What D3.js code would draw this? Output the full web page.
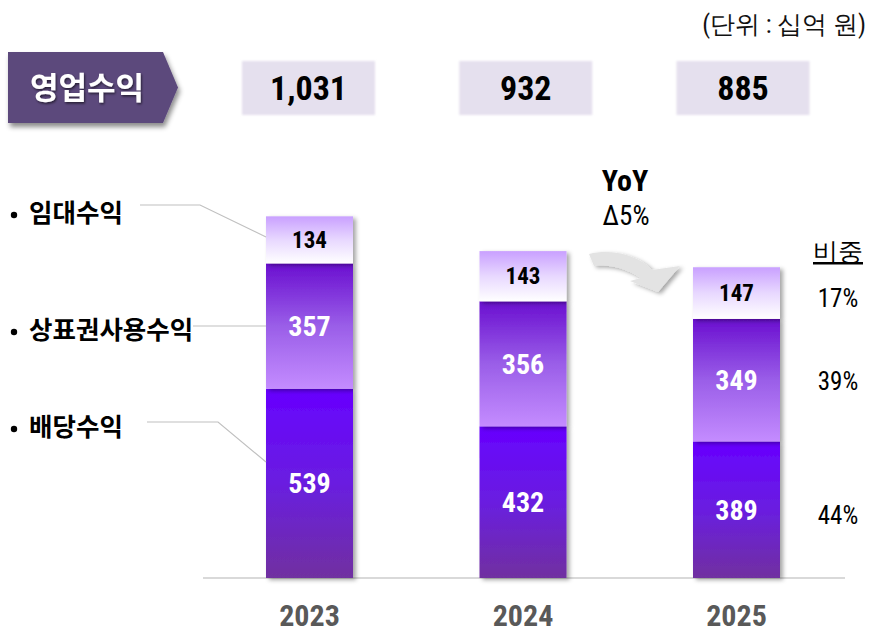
<!DOCTYPE html>
<html><head><meta charset="utf-8">
<script src="https://cdn.jsdelivr.net/npm/d3@7"></script>
<style>
body{margin:0;background:#fff;}
svg{display:block;}
.kr{font-family:"Noto Sans CJK KR","Noto Sans",sans-serif;}
.nar{font-family:"Liberation Sans Narrow","Arial Narrow","Roboto Condensed",sans-serif;}
</style></head>
<body>
<svg id="c" width="870" height="633"></svg>
<script>
const years = ["2023","2024","2025"];
const totals = ["1,031","932","885"];
const dividend = [539,432,389];
const brand = [357,356,349];
const rental = [134,143,147];
const seriesNames = ["배당수익","상표권사용수익","임대수익"];
const shares = ["44%","39%","17%"];
const yoyTitle = "YoY";
const yoyValue = "Δ5%";
const unitText = "(단위 : 십억 원)";
const headerText = "영업수익";
const shareTitle = "비중";

const svg = d3.select("#c");
const defs = svg.append("defs");

function grad(id, stops){
  const g = defs.append("linearGradient").attr("id",id).attr("x1",0).attr("y1",0).attr("x2",0).attr("y2",1);
  stops.forEach(s=>g.append("stop").attr("offset",s[0]).attr("stop-color",s[1]));
}
grad("gDiv",[[0,"#6600ff"],[0.5,"#6a1ee0"],[1,"#7030a0"]]);
grad("gBrand",[[0,"#6a0fd0"],[0.5,"#9a5ee8"],[1,"#c48cff"]]);
grad("gRent",[[0,"#c9a0ff"],[0.5,"#e8d8ff"],[1,"#ffffff"]]);

const f = defs.append("filter").attr("id","sh").attr("x","-20%").attr("y","-20%").attr("width","150%").attr("height","150%");
f.append("feDropShadow").attr("dx",3).attr("dy",2).attr("stdDeviation",2.2).attr("flood-color","#000").attr("flood-opacity",0.35);
const f2 = defs.append("filter").attr("id","sh2").attr("x","-20%").attr("y","-20%").attr("width","150%").attr("height","160%");
f2.append("feDropShadow").attr("dx",2).attr("dy",4).attr("stdDeviation",2.5).attr("flood-color","#000").attr("flood-opacity",0.45);
const f3 = defs.append("filter").attr("id","sh3").attr("x","-20%").attr("y","-20%").attr("width","150%").attr("height","160%");
f3.append("feDropShadow").attr("dx",1).attr("dy",1.5).attr("stdDeviation",0.8).attr("flood-color","#000").attr("flood-opacity",0.6);
const fb = defs.append("filter").attr("id","blur").attr("x","-10%").attr("y","-10%").attr("width","120%").attr("height","120%");
fb.append("feGaussianBlur").attr("stdDeviation",0.8);

// scales
const x = d3.scalePoint().domain(years).range([309.5, 736.5]);
const barW = 87;
const y = d3.scaleLinear().domain([0, 1031]).range([578, 216]);

// unit text
svg.append("text").attr("class","nar").attr("x",866).attr("y",33).attr("text-anchor","end")
  .attr("font-size",25).attr("fill","#111").text(unitText);

// header arrow box
svg.append("path").attr("d","M8,52 L163,52 L178,87.5 L163,123 L8,123 Z")
  .attr("fill","#5c4a7c").attr("filter","url(#sh2)");
svg.append("text").attr("class","kr").attr("x",87).attr("y",99).attr("text-anchor","middle")
  .attr("font-size",31).attr("font-weight",700).attr("fill","#fff").attr("filter","url(#sh3)").text(headerText);

// total boxes
const boxW = 133, boxH = 54;
const boxCenters = d3.scalePoint().domain(years).range([308.5, 743]);
years.forEach((yr,i)=>{
  const cx = boxCenters(yr);
  svg.append("rect").attr("x",cx-boxW/2).attr("y",61).attr("width",boxW).attr("height",boxH)
    .attr("fill","#e5e0ee").attr("filter","url(#blur)");
  svg.append("text").attr("class","nar").attr("x",cx).attr("y",100).attr("text-anchor","middle")
    .attr("font-size",34).attr("font-weight",700).attr("fill","#000").text(totals[i]);
});

// baseline
svg.append("line").attr("x1",203).attr("x2",845).attr("y1",578).attr("y2",578)
  .attr("stroke","#d9d9d9").attr("stroke-width",2);

// stacks
const rows = years.map((yr,i)=>({year:yr, div:dividend[i], brand:brand[i], rent:rental[i]}));
const stack = d3.stack().keys(["div","brand","rent"])(rows);
const fills = {div:"url(#gDiv)", brand:"url(#gBrand)", rent:"url(#gRent)"};
const labelStyle = {
  div:{fill:"#fff",size:28},
  brand:{fill:"#fff",size:28},
  rent:{fill:"#000",size:23}
};
const gBars = svg.append("g");
stack.forEach(layer=>{
  layer.forEach(d=>{
    gBars.append("rect").attr("x",x(d.data.year)-barW/2).attr("y",y(d[1]))
      .attr("width",barW).attr("height",y(d[0])-y(d[1]))
      .attr("fill",fills[layer.key]).attr("filter","url(#sh)");
  });
});
stack.forEach(layer=>{
  layer.forEach(d=>{
    const st = labelStyle[layer.key];
    svg.append("text").attr("class","nar").attr("x",x(d.data.year)).attr("y",(y(d[0])+y(d[1]))/2)
      .attr("dy","0.36em").attr("text-anchor","middle").attr("font-size",st.size).attr("font-weight",700)
      .attr("fill",st.fill).text(d.data[layer.key]);
  });
});

// year labels
years.forEach(yr=>{
  svg.append("text").attr("class","nar").attr("x",x(yr)).attr("y",626).attr("text-anchor","middle")
    .attr("font-size",30).attr("font-weight",700).attr("fill","#595959").text(yr);
});

// legend labels with leader lines
const last = x(years[0]) - barW/2;
const legend = [
  {name:seriesNames[2], ty:213, pts:[[140,205],[200,205],[last,237]]},
  {name:seriesNames[1], ty:330, pts:[[193,326],[last,326]]},
  {name:seriesNames[0], ty:427, pts:[[147,422],[218,422],[last,462]]}
];
legend.forEach(l=>{
  svg.append("circle").attr("cx",14).attr("cy",l.ty+2).attr("r",3.2).attr("fill","#000");
  svg.append("text").attr("class","kr").attr("x",29).attr("y",l.ty).attr("dy","0.36em")
    .attr("font-size",25.5).attr("font-weight",700).attr("fill","#000").text(l.name);
  svg.append("path").attr("d",d3.line()(l.pts)).attr("fill","none").attr("stroke","#c0c0c0").attr("stroke-width",1.2);
});

// YoY
svg.append("text").attr("class","nar").attr("x",625).attr("y",191).attr("text-anchor","middle")
  .attr("font-size",30).attr("font-weight",700).attr("fill","#000").text(yoyTitle);
svg.append("text").attr("class","nar").attr("x",626).attr("y",225).attr("text-anchor","middle")
  .attr("font-size",27).attr("fill","#000").text(yoyValue);

// curved arrow
svg.append("path")
  .attr("d","M589,254 C615,248 640,257 652,270 L680,266 L658,292 L630,281 L641,278 C626,268 608,264 594,266 Z")
  .attr("fill","#e3e3e3").attr("filter","url(#sh)");

// share column
svg.append("text").attr("class","nar").attr("x",838).attr("y",251).attr("dy","0.36em").attr("text-anchor","middle")
  .attr("font-size",25).attr("fill","#000").attr("text-decoration","underline").text(shareTitle);
const lastLayers = stack.map(l=>l[l.length-1]);
const shareOffsets = [5, 1, 5];
lastLayers.forEach((d,i)=>{
  svg.append("text").attr("class","nar").attr("x",838).attr("y",(y(d[0])+y(d[1]))/2 + shareOffsets[i]).attr("dy","0.36em")
    .attr("text-anchor","middle").attr("font-size",25).attr("fill","#000").text(shares[i]);
});
</script>
</body></html>
